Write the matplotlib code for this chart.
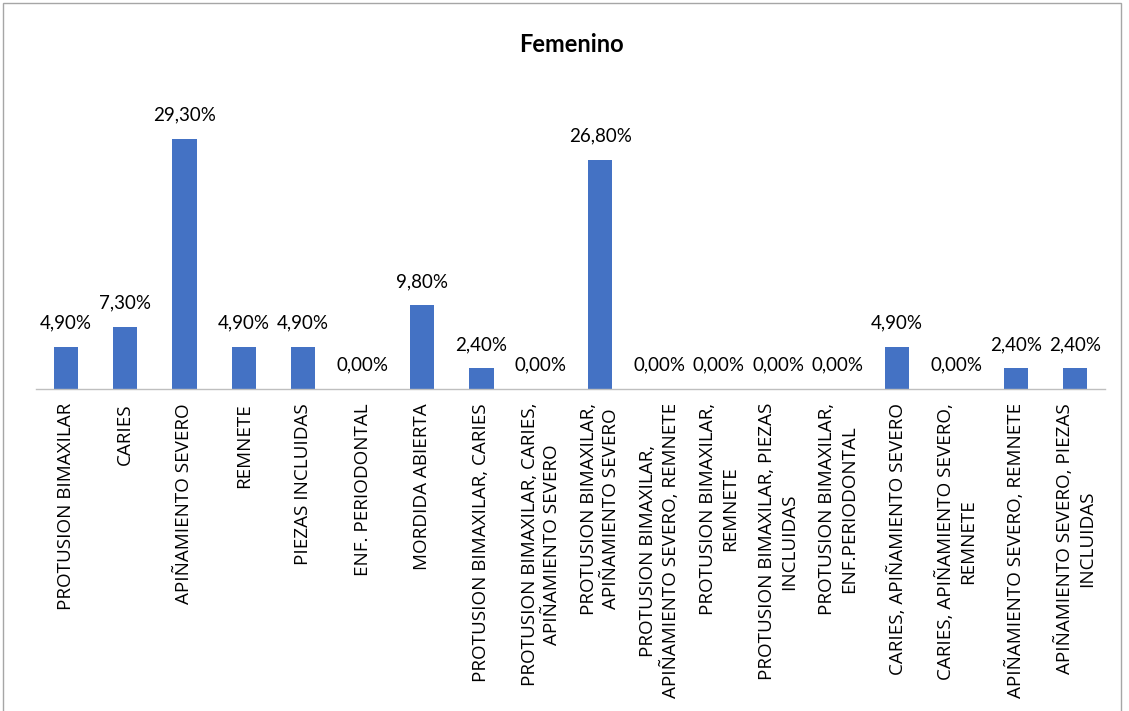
import matplotlib
matplotlib.use("Agg")
import matplotlib.pyplot as plt
from matplotlib.patches import Rectangle

categories = [
    "PROTUSION BIMAXILAR",
    "CARIES",
    "APIÑAMIENTO SEVERO",
    "REMNETE",
    "PIEZAS INCLUIDAS",
    "ENF. PERIODONTAL",
    "MORDIDA ABIERTA",
    "PROTUSION BIMAXILAR, CARIES",
    "PROTUSION BIMAXILAR, CARIES,\nAPIÑAMIENTO SEVERO",
    "PROTUSION BIMAXILAR,\nAPIÑAMIENTO SEVERO",
    "PROTUSION BIMAXILAR,\nAPIÑAMIENTO SEVERO, REMNETE",
    "PROTUSION BIMAXILAR,\nREMNETE",
    "PROTUSION BIMAXILAR, PIEZAS\nINCLUIDAS",
    "PROTUSION BIMAXILAR,\nENF.PERIODONTAL",
    "CARIES, APIÑAMIENTO SEVERO",
    "CARIES, APIÑAMIENTO SEVERO,\nREMNETE",
    "APIÑAMIENTO SEVERO, REMNETE",
    "APIÑAMIENTO SEVERO, PIEZAS\nINCLUIDAS",
]
values = [4.9, 7.3, 29.3, 4.9, 4.9, 0.0, 9.8, 2.4, 0.0, 26.8,
          0.0, 0.0, 0.0, 0.0, 4.9, 0.0, 2.4, 2.4]
title = "Femenino"

BAR_COLOR = "#4472C4"
TEXT_COLOR = "#000000"
W, H = 1129, 711

fig = plt.figure(figsize=(W / 100, H / 100), dpi=100)
fig.patch.set_facecolor("white")

# chart-area frame (runs off the bottom edge)
fig.patches.append(Rectangle((3 / W, -0.05), 1118 / W, (H - 3) / H + 0.05,
                             transform=fig.transFigure, fill=False,
                             edgecolor="#A6A6A6", linewidth=1.0))

ax = fig.add_axes([36 / W, 322 / H, 1069 / W, 299 / H])
x = list(range(len(categories)))
ax.bar(x, values, width=0.41, color=BAR_COLOR)
ax.set_xlim(-0.5, len(categories) - 0.5)
ax.set_ylim(0, 35)

for xi, v in zip(x, values):
    ax.annotate(f"{v:.2f}%".replace(".", ","), (xi, v), xytext=(0, 11),
                textcoords="offset points", ha="center", va="bottom",
                fontsize=13.5, family="Lato", color=TEXT_COLOR)

ax.set_xticks(x)
ax.set_xticklabels(categories, rotation=90, fontsize=13.6, family="Open Sans",
                   color=TEXT_COLOR, ha="center", va="top",
                   multialignment="center", linespacing=1.3)
ax.tick_params(axis="x", length=0, pad=10)
ax.set_yticks([])
for side in ("top", "left", "right"):
    ax.spines[side].set_visible(False)
ax.spines["bottom"].set_color("#BFBFBF")
ax.spines["bottom"].set_linewidth(1.0)

fig.text(571 / W, 1 - 44 / H, title, ha="center", va="center",
         fontsize=17, fontweight="bold", family="Lato", color=TEXT_COLOR)

fig.savefig("out.png", dpi=100)
